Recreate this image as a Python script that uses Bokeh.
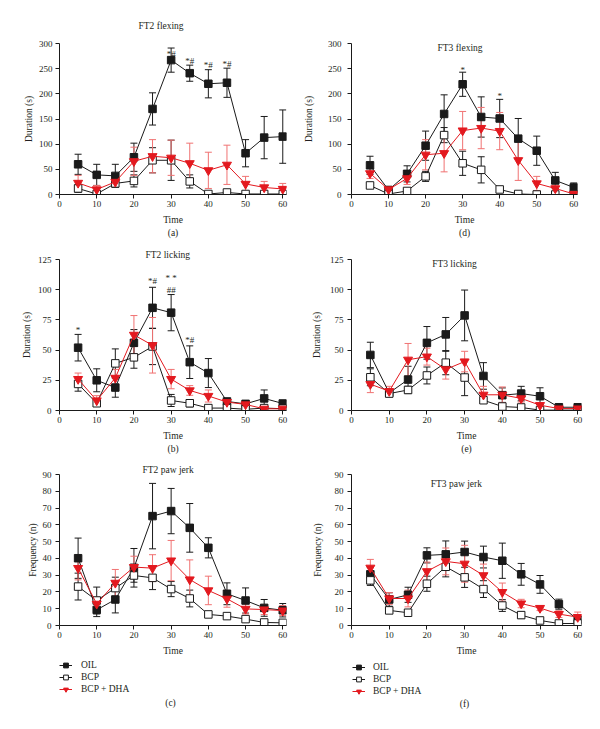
from bokeh.plotting import figure
from bokeh.models import (ColumnDataSource, Whisker, TeeHead, Label, Legend, LegendItem,
                          Range1d, FixedTicker, Title)
from bokeh.layouts import column, row
from bokeh.embed import file_html
from bokeh.resources import INLINE
from bokeh.core.properties import value

# ---------------- data ----------------
time = [5, 10, 15, 20, 25, 30, 35, 40, 45, 50, 55, 60]
x_ticks = [0, 10, 20, 30, 40, 50, 60]
series_names = ["OIL", "BCP", "BCP + DHA"]

# (a) FT2 flexing, duration (s)
ft2_flex_oil = [60, 39, 37, 74, 170, 267, 241, 220, 222, 82, 113, 115]
ft2_flex_oil_err = [20, 21, 23, 28, 32, 24, 16, 28, 29, 27, 42, 53]
ft2_flex_bcp = [12, 1, 22, 27, 68, 68, 26, 1, 4, 1, 1, 1]
ft2_flex_bcp_err = [8, 2, 8, 12, 25, 40, 13, 1, 2, 1, 1, 1]
ft2_flex_dha = [23, 10, 25, 66, 76, 73, 62, 48, 59, 21, 14, 11]
ft2_flex_dha_err = [15, 8, 8, 28, 33, 35, 40, 36, 39, 15, 12, 11]
ft2_flex_note_x = [30, 35, 40, 45]
ft2_flex_note_y = [280, 265, 257, 260]
ft2_flex_note_txt = ["*#", "*#", "*#", "*#"]

# (d) FT3 flexing, duration (s)
ft3_flex_oil = [58, 9, 41, 97, 160, 219, 154, 151, 111, 87, 28, 14]
ft3_flex_oil_err = [18, 5, 16, 29, 38, 24, 40, 38, 40, 29, 16, 9]
ft3_flex_bcp = [18, 1, 7, 36, 118, 62, 49, 10, 1, 0, 0, 0]
ft3_flex_bcp_err = [5, 1, 3, 10, 15, 24, 26, 5, 1, 0, 0, 0]
ft3_flex_dha = [42, 10, 32, 79, 82, 127, 132, 126, 68, 22, 12, 1]
ft3_flex_dha_err = [10, 6, 12, 30, 37, 38, 41, 37, 40, 14, 7, 1]
ft3_flex_note_x = [30, 40]
ft3_flex_note_y = [248, 196]
ft3_flex_note_txt = ["*", "*"]

# (b) FT2 licking, duration (s)
ft2_lick_oil = [52, 25, 19, 56, 85, 81, 40, 31, 7.5, 5.5, 10, 5.8]
ft2_lick_oil_err = [11, 9.5, 8, 11, 17, 15, 13.5, 12, 2, 1, 7, 2]
ft2_lick_bcp = [22, 6, 39, 44, 53, 8.3, 6, 2, 2, 1, 2, 1.5]
ft2_lick_bcp_err = [6, 2, 12, 9, 15, 5, 3, 1, 1, 1, 1, 1]
ft2_lick_dha = [26, 8.3, 27, 62.6, 54, 26, 16.6, 12, 7, 5, 1.4, 1.4]
ft2_lick_dha_err = [5, 4, 7, 16, 23, 8, 4, 5, 2, 1, 1, 1]
ft2_lick_note_x = [5, 25, 30, 30, 35]
ft2_lick_note_y = [67, 107, 110, 100, 58]
ft2_lick_note_txt = ["*", "*#", "* *", "##", "*#"]

# (e) FT3 licking, duration (s)
ft3_lick_oil = [46, 14.6, 25.6, 56, 63, 78.7, 28.6, 12.7, 14, 11.8, 2.7, 2.7]
ft3_lick_oil_err = [10.5, 3, 11, 13.5, 14, 21, 11, 6, 6, 7, 1, 1]
ft3_lick_bcp = [27.5, 14, 17, 29, 39.6, 27.3, 8.5, 3.3, 2.5, 0.3, 0.3, 0.3]
ft3_lick_bcp_err = [7, 2, 3, 7, 10, 15, 2, 1, 1, 0.3, 0.3, 0.3]
ft3_lick_dha = [21.8, 16, 42, 44.6, 34, 40.5, 13, 13, 10, 4.4, 1.6, 1.6]
ft3_lick_dha_err = [7, 4, 13.5, 7, 8, 8.5, 7, 6.5, 3, 2, 1, 1]

# (c) FT2 paw jerk, frequency (n)
ft2_jerk_oil = [40.1, 9.3, 15.5, 34.4, 65.2, 68.2, 58.2, 46.3, 18.9, 14.9, 10.5, 9.1]
ft2_jerk_oil_err = [12, 4, 8, 11.5, 19.5, 13.5, 14.5, 6, 6.5, 7.5, 5, 4]
ft2_jerk_bcp = [23.2, 14.9, 22.3, 29.8, 28.4, 21.7, 16.1, 6.6, 5.6, 3.8, 1.8, 1.6]
ft2_jerk_bcp_err = [8, 8, 6.5, 4, 7, 4.5, 5, 1, 1, 1, 1, 1]
ft2_jerk_dha = [34.2, 12.9, 25.4, 34.8, 34.2, 38.7, 27.4, 20.9, 15.9, 9.9, 9.5, 8.9]
ft2_jerk_dha_err = [7, 4, 8, 6.5, 8, 12, 11.7, 8.5, 5, 3, 3, 3]

# (f) FT3 paw jerk, frequency (n)
ft3_jerk_oil = [30.5, 15.5, 18.3, 41.8, 42.4, 43.8, 40.8, 38.6, 30.5, 24.5, 12.7, 3.4]
ft3_jerk_oil_err = [4, 4, 4.5, 4.5, 8, 6.5, 6.5, 10.5, 6.5, 5.3, 3, 2]
ft3_jerk_bcp = [26.9, 9, 7.6, 24.9, 35, 28.7, 21.7, 11.9, 6.2, 3, 1.2, 1.2]
ft3_jerk_bcp_err = [3, 1.5, 1, 4.5, 6, 6, 5, 3.5, 2, 1, 0.5, 0.5]
ft3_jerk_dha = [34.4, 16.1, 16.1, 32.3, 38.2, 36.8, 29.9, 19.9, 13.1, 10.4, 6.8, 5]
ft3_jerk_dha_err = [5, 3.5, 5, 5.5, 8, 11, 6.7, 5.4, 2.5, 1.5, 2, 3]

flex_ticks = [0, 50, 100, 150, 200, 250, 300]
lick_ticks = [0, 25, 50, 75, 100, 125]
jerk_ticks = [0, 10, 20, 30, 40, 50, 60, 70, 80, 90]

# ---------------- style ----------------
FONT = "Liberation Serif"
INK = "#1a1a1a"
TXT = "#231f20"
RED = "#e3191f"
RED_ERR = "#f07272"

STYLES = [
    dict(line=INK, err=INK, marker="square", fill=INK, edge=INK, size=7.5),
    dict(line=INK, err=INK, marker="square", fill="white", edge=INK, size=7.5),
    dict(line=RED, err=RED_ERR, marker="inverted_triangle", fill=RED, edge=RED, size=9),
]


def build(title, series, notes, caption, ylabel, y_ticks, width, height, bl, br, bt, bb,
          ytick_so, ylab_so, title_above=None, title_inside=None):
    ymax = y_ticks[-1]
    p = figure(width=width, height=height, output_backend="svg", toolbar_location=None,
               x_range=Range1d(0, 61), y_range=Range1d(0, ymax),
               min_border_left=bl, min_border_right=br, min_border_top=bt,
               min_border_bottom=bb)
    p.outline_line_color = None
    p.grid.visible = False
    p.background_fill_color = "white"
    p.border_fill_color = "white"
    for ax in (p.xaxis[0], p.yaxis[0]):
        ax.axis_line_color = INK
        ax.axis_line_width = 1
        ax.major_tick_line_color = INK
        ax.major_tick_in = 0
        ax.major_tick_out = 4
        ax.minor_tick_line_color = None
        ax.major_label_text_font = FONT
        ax.major_label_text_font_size = "9px"
        ax.major_label_text_color = TXT
        ax.axis_label_text_font = FONT
        ax.axis_label_text_font_size = "9.5px"
        ax.axis_label_text_font_style = "normal"
        ax.axis_label_text_color = TXT
    p.xaxis.ticker = FixedTicker(ticks=x_ticks)
    p.yaxis.ticker = FixedTicker(ticks=y_ticks)
    p.xaxis.axis_label = "Time"
    p.yaxis.axis_label = ylabel
    p.xaxis.major_label_standoff = 2
    p.xaxis.axis_label_standoff = 5
    p.yaxis.major_label_standoff = ytick_so
    p.yaxis.axis_label_standoff = ylab_so

    frame_h = height - bt - bb
    ppu = frame_h / ymax

    for name, (mean, err), st in zip(series_names, series, STYLES):
        up = [m + e for m, e in zip(mean, err)]
        lo = [max(0, m - e) for m, e in zip(mean, err)]
        esrc = ColumnDataSource(dict(x=time, upper=up, lower=lo))
        w = Whisker(source=esrc, base="x", upper="upper", lower="lower",
                    line_color=st["err"], line_width=1,
                    upper_head=TeeHead(size=7, line_color=st["err"], line_width=1),
                    lower_head=TeeHead(size=7, line_color=st["err"], line_width=1))
        p.add_layout(w)
        src = ColumnDataSource(dict(x=time, y=mean))
        p.line("x", "y", source=src, line_color=st["line"], line_width=1)
        p.scatter("x", "y", source=src, marker=st["marker"], size=st["size"],
                  fill_color=st["fill"], line_color=st["edge"], line_width=1)

    if notes is not None:
        nx, ny, nt = notes
        p.text(x=nx, y=ny, text=nt, text_font=value(FONT), text_font_size="9px",
               text_align="center", text_baseline="middle", text_color=TXT)

    if title_above is not None:
        offset, standoff = title_above
        p.title = Title(text=title, align="left", offset=offset, standoff=standoff,
                        text_font=FONT, text_font_size="9.5px", text_font_style="normal",
                        text_color=TXT)
    if title_inside is not None:
        tx, tdy = title_inside
        p.add_layout(Label(x=tx, y=ymax - tdy / ppu, text=title,
                           text_font=FONT, text_font_size="9.5px", text_color=TXT,
                           text_align="center", text_baseline="middle"))

    if caption is not None:
        p.add_layout(Title(text=caption, align="center", standoff=0, vertical_align="top",
                           text_font=FONT, text_font_size="9.5px",
                           text_font_style="normal", text_color=TXT), "below")
    return p


def legend_strip(series, width, height, legend_x, legend_top, row_h, label_so, caption,
                 cap_x, cap_y_from_top):
    lp = figure(width=width, height=height, output_backend="svg", toolbar_location=None,
                x_range=Range1d(0, width), y_range=Range1d(0, height),
                x_axis_location=None, y_axis_location=None,
                min_border_left=0, min_border_right=0, min_border_top=0,
                min_border_bottom=0)
    lp.outline_line_color = None
    lp.grid.visible = False
    lp.background_fill_color = "white"
    lp.border_fill_color = "white"
    items = []
    for name, (mean, err), st in zip(series_names, series, STYLES):
        # key renderers carry the panel's own series but stay hidden: only the key swatch shows
        src = ColumnDataSource(dict(x=time, y=mean))
        lr = lp.line("x", "y", source=src, line_color=st["line"], line_width=1,
                     visible=False)
        sr = lp.scatter("x", "y", source=src, marker=st["marker"], size=st["size"],
                        fill_color=st["fill"], line_color=st["edge"], line_width=1,
                        visible=False)
        items.append(LegendItem(label=name, renderers=[lr, sr], index=0))
    leg_h = row_h * 3
    lg = Legend(items=items, location=(legend_x, height - legend_top - leg_h),
                orientation="vertical", glyph_width=13, glyph_height=row_h,
                label_height=row_h, label_width=20, label_standoff=label_so,
                spacing=0, padding=0, margin=0, border_line_color=None,
                background_fill_alpha=0, inactive_fill_alpha=0,
                label_text_font=FONT, label_text_font_size="9.5px",
                label_text_color=TXT)
    lp.add_layout(lg, "center")
    lp.add_layout(Label(x=cap_x, y=height - cap_y_from_top, text=caption,
                        text_font=FONT, text_font_size="9.5px", text_color=TXT,
                        text_align="center", text_baseline="middle"))
    return lp


jerk2 = [(ft2_jerk_oil, ft2_jerk_oil_err), (ft2_jerk_bcp, ft2_jerk_bcp_err),
         (ft2_jerk_dha, ft2_jerk_dha_err)]
jerk3 = [(ft3_jerk_oil, ft3_jerk_oil_err), (ft3_jerk_bcp, ft3_jerk_bcp_err),
         (ft3_jerk_dha, ft3_jerk_dha_err)]

pa = build("FT2 flexing",
           [(ft2_flex_oil, ft2_flex_oil_err), (ft2_flex_bcp, ft2_flex_bcp_err),
            (ft2_flex_dha, ft2_flex_dha_err)],
           (ft2_flex_note_x, ft2_flex_note_y, ft2_flex_note_txt), "(a)",
           "Duration (s)", flex_ticks, 300, 245, 59, 14, 43, 51, 3, 2,
           title_above=(79, 25))
pd_ = build("FT3 flexing",
            [(ft3_flex_oil, ft3_flex_oil_err), (ft3_flex_bcp, ft3_flex_bcp_err),
             (ft3_flex_dha, ft3_flex_dha_err)],
            (ft3_flex_note_x, ft3_flex_note_y, ft3_flex_note_txt), "(d)",
            "Duration (s)", flex_ticks, 299, 245, 50, 22, 43, 51, 6, 11,
            title_inside=(29.3, 4))
pb = build("FT2 licking",
           [(ft2_lick_oil, ft2_lick_oil_err), (ft2_lick_bcp, ft2_lick_bcp_err),
            (ft2_lick_dha, ft2_lick_dha_err)],
           (ft2_lick_note_x, ft2_lick_note_y, ft2_lick_note_txt), "(b)",
           "Duration (s)", lick_ticks, 300, 213, 59, 14, 14, 48, 4, 3,
           title_above=(86, 0))
pe = build("FT3 licking",
           [(ft3_lick_oil, ft3_lick_oil_err), (ft3_lick_bcp, ft3_lick_bcp_err),
            (ft3_lick_dha, ft3_lick_dha_err)],
           None, "(e)",
           "Duration (s)", lick_ticks, 299, 213, 51, 18, 14, 48, 4, 5,
           title_inside=(27.3, 4.5))
pc = build("FT2 paw jerk", jerk2, None, None,
           "Frequency (n)", jerk_ticks, 300, 201, 59, 14, 16, 34, 4, 2,
           title_above=(83, 0))
pf = build("FT3 paw jerk", jerk3, None, None,
           "Frequency (n)", jerk_ticks, 299, 201, 51, 18, 16, 34, 4, 9,
           title_inside=(27.8, 9.3))
lc = legend_strip(jerk2, 300, 68, 59, 0, 12, 9, "(c)", 170, 43)
lf = legend_strip(jerk3, 299, 68, 52, 2, 12, 8, "(f)", 164, 44)

layout = column(row(pa, pd_), row(pb, pe), row(pc, pf), row(lc, lf))
open("out.html", "w").write(file_html(layout, INLINE))
